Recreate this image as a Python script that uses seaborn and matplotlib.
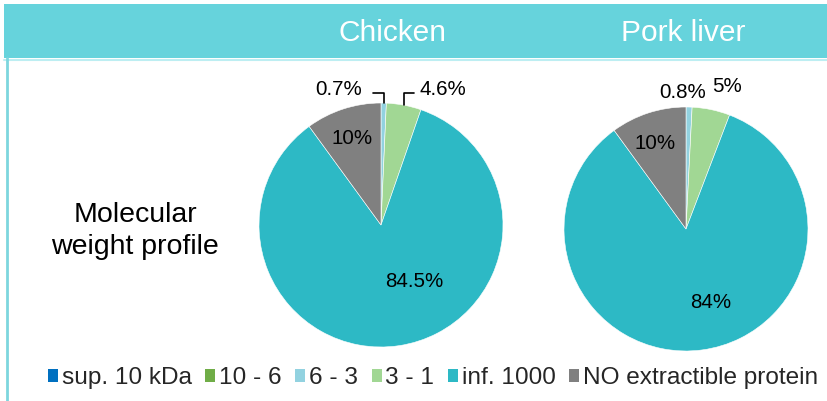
import numpy as np
import matplotlib
matplotlib.use("Agg")
import matplotlib.pyplot as plt
from matplotlib.patches import Rectangle, Patch
from matplotlib.lines import Line2D
import seaborn as sns

# ---- data -------------------------------------------------------------
categories = ["sup. 10 kDa", "10 - 6", "6 - 3", "3 - 1", "inf. 1000",
              "NO extractible protein"]
chicken = [0, 0, 0.7, 4.6, 84.5, 10]
pork_liver = [0, 0, 0.8, 5, 84, 10]
panel_titles = ["Chicken", "Pork liver"]
row_label = "Molecular\nweight profile"

# ---- style ------------------------------------------------------------
sns.set_theme(style="white")
plt.rcParams["font.family"] = ["Liberation Sans", "DejaVu Sans"]

palette = sns.color_palette(["#0070C0", "#70AD47", "#92D2E0", "#A1D794",
                             "#2DB9C5", "#808080"])
header_color = "#66D3DC"

W, H = 827, 401
fig = plt.figure(figsize=(W / 100, H / 100), dpi=100)
fig.patch.set_facecolor("white")


def fx(px):
    return px / W


def fy(py):
    return 1 - py / H


# header band and frame lines
fig.patches.append(Rectangle((fx(4), fy(58)), 1 - fx(4), fy(4) - fy(58),
                             transform=fig.transFigure, facecolor=header_color,
                             edgecolor="none", zorder=0))
fig.lines.append(Line2D([fx(4), 1], [fy(59.5), fy(59.5)], transform=fig.transFigure,
                        color="#BDEEF2", lw=1.5))
fig.lines.append(Line2D([fx(7), fx(7)], [0, fy(58)], transform=fig.transFigure,
                        color="#7DD6DE", lw=2))

# panel headings
fig.text(fx(393), fy(33), panel_titles[0], color="white", fontsize=21.5,
         ha="center", va="center")
fig.text(fx(683), fy(33), panel_titles[1], color="white", fontsize=21.5,
         ha="center", va="center")

# row label
fig.text(fx(135), fy(231), row_label, color="black", fontsize=20.5,
         ha="center", va="center", linespacing=1.25)

# ---- pies -------------------------------------------------------------
R = 122           # pie radius in px
L = 1.5           # axes half-extent in units of pie radius

# label placement per slice: (x, y) offsets in pie radius units,
# plus optional leader-line settings
label_layout = {
    "chicken": {
        2: dict(pos=(-0.35, 1.11), leader=dict(relpos=(1, 0.3), shrinkA=6)),
        3: dict(pos=(0.51, 1.11), leader=dict(relpos=(0, 0.3), shrinkA=2)),
        4: dict(pos=(0.27, -0.46)),
        5: dict(pos=(-0.24, 0.71)),
    },
    "pork": {
        2: dict(pos=(-0.025, 1.12)),
        3: dict(pos=(0.34, 1.17)),
        4: dict(pos=(0.20, -0.60)),
        5: dict(pos=(-0.25, 0.70)),
    },
}

pies = [("chicken", chicken, (381, 225)), ("pork", pork_liver, (686, 229))]

for key, values, (cx, cy) in pies:
    ax = fig.add_axes([fx(cx - L * R), fy(cy + L * R), 2 * L * R / W, 2 * L * R / H])
    wedges, _ = ax.pie(values, colors=palette, startangle=90, counterclock=False,
                       radius=1, wedgeprops=dict(edgecolor="white", linewidth=0.4))
    ax.set_xlim(-L, L)
    ax.set_ylim(-L, L)
    ax.axis("off")
    for i, v in enumerate(values):
        if v == 0:
            continue
        spec = label_layout[key][i]
        txt = f"{v:g}%"
        if "leader" in spec:
            w = wedges[i]
            mid = np.deg2rad((w.theta1 + w.theta2) / 2)
            edge = (np.cos(mid), np.sin(mid))
            ld = spec["leader"]
            ax.annotate(txt, xy=edge, xytext=spec["pos"], ha="center", va="center",
                        fontsize=14.8, color="black",
                        arrowprops=dict(arrowstyle="-", color="black", lw=1.2,
                                        connectionstyle="angle,angleA=0,angleB=90,rad=0",
                                        relpos=ld["relpos"], shrinkA=ld["shrinkA"],
                                        shrinkB=0))
        else:
            ax.text(*spec["pos"], txt, ha="center", va="center", fontsize=14.8,
                    color="black")

# ---- legend -----------------------------------------------------------
handles = [Patch(facecolor=c, edgecolor="none") for c in palette]
fig.legend(handles, categories, loc="center", bbox_to_anchor=(fx(433), fy(378)),
           ncol=6, frameon=False, fontsize=17.6, handlelength=0.42, handleheight=0.42,
           handletextpad=0.15, columnspacing=0.55, borderaxespad=0, borderpad=0)

fig.savefig("out.png", dpi=100, facecolor="white")
